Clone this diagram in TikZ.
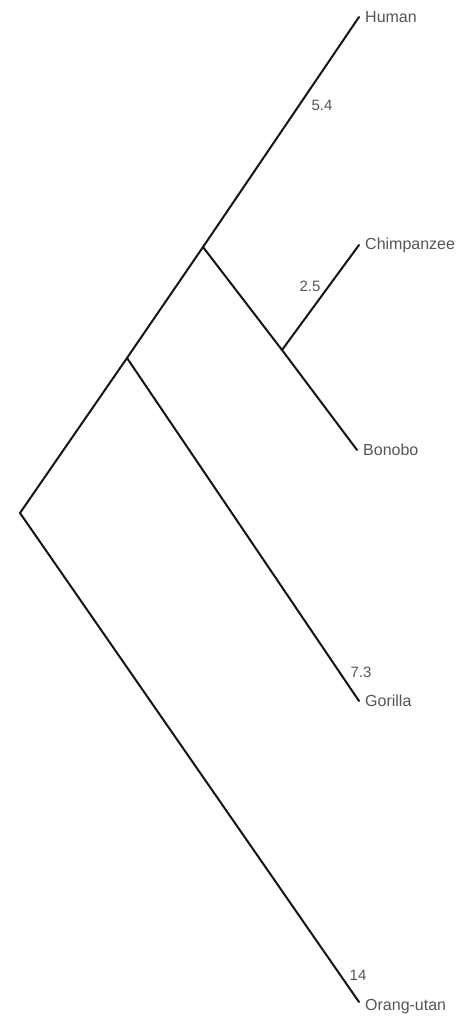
\documentclass[tikz,border=0pt]{standalone}
\usepackage{fontspec}
\setmainfont{Liberation Sans}
\usetikzlibrary{positioning}
\definecolor{branchgray}{HTML}{141414}
\definecolor{labelgray}{HTML}{555555}

\begin{document}
\begin{tikzpicture}[x=1pt, y=-1pt,
  branch/.style={line width=2pt, branchgray, line cap=round},
  taxon/.style={font=\fontsize{16}{18}\selectfont, text=labelgray, inner sep=0pt},
  length/.style={font=\fontsize{15}{17}\selectfont, text=labelgray, inner sep=0pt}
]
\useasboundingbox (0,0) rectangle (457,1016);

% splits
\coordinate (root) at (20,513);
\coordinate (sg) at (127,358);
\coordinate (sh) at (203,247);
\coordinate (sc) at (282,350);

% tips
\coordinate (human) at (359,17);
\coordinate (chimp) at (359,245);
\coordinate (bonobo) at (357,450);
\coordinate (gorilla) at (359,701);
\coordinate (orang) at (359,1002);

\draw[branch] (orang) -- (root) -- (sg) -- (sh) -- (human);
\draw[branch] (sg) -- (gorilla);
\draw[branch] (sh) -- (sc) -- (bonobo);
\draw[branch] (sc) -- (chimp);

\node[taxon, right=6pt of human] (lhuman) {Human};
\node[taxon, right=6pt of chimp] (lchimp) {Chimpanzee};
\node[taxon, right=6pt of bonobo] (lbonobo) {Bonobo};
\node[taxon, right=6pt of gorilla] (lgorilla) {Gorilla};
\node[taxon, right=6pt of orang, yshift=-5pt] (lorang) {Orang-utan};

\node[length] (d54) at (322,105) {5.4};
\node[length] (d25) at (310,286) {2.5};
\node[length] (d73) at (361,672) {7.3};
\node[length] (d14) at (358,975) {14};

\end{tikzpicture}
\end{document}
